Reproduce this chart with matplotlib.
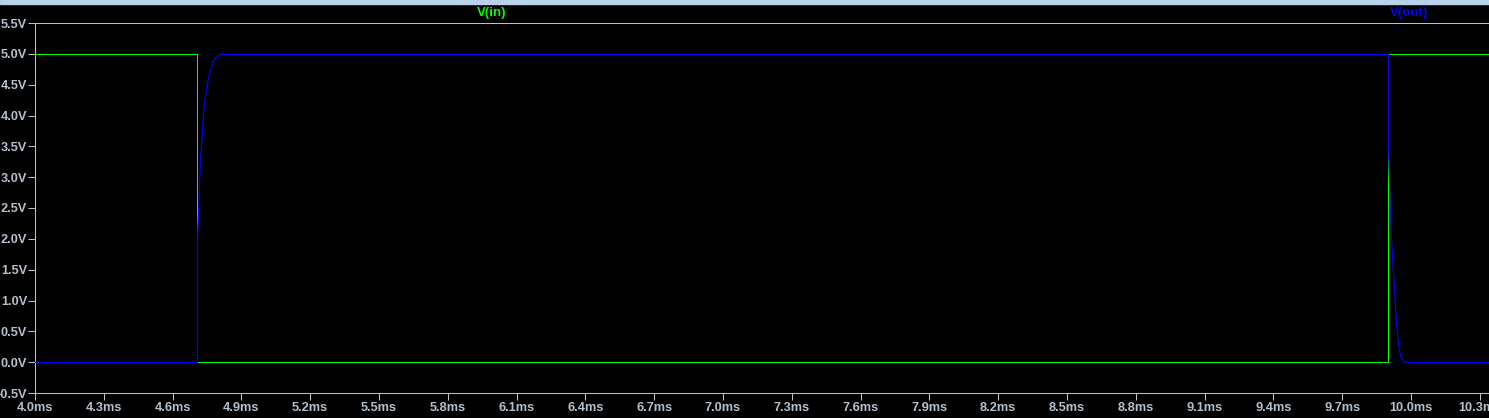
import numpy as np
import matplotlib
matplotlib.use("Agg")
import matplotlib.pyplot as plt
from matplotlib.patches import Rectangle

# V(in): square pulse, times in ms
t_in = [4.0, 4.705, 4.705, 9.901, 9.901, 10.34]
v_in = [5.0, 5.0, 0.0, 0.0, 5.0, 5.0]

# V(out): follows input with a quick RC-like edge
t_out = [4.0, 4.705, 4.705, 4.7096, 4.714, 4.7196, 4.727, 4.734, 4.7414,
         4.7488, 4.7632, 4.7776, 4.7924, 4.8068,
         9.9011, 9.9011, 9.9085, 9.9116, 9.9159, 9.9203, 9.926, 9.9303,
         9.9347, 9.9404, 9.9447, 9.9521, 9.9665, 9.9813, 10.34]
v_out = [0.0, 0.0, 2.03, 2.41, 2.85, 3.33, 3.71, 4.04, 4.31,
         4.52, 4.74, 4.90, 4.97, 5.0,
         5.0, 3.5, 2.41, 2.03, 1.71, 1.44, 1.22, 0.90,
         0.63, 0.47, 0.30, 0.11, 0.02, 0.0, 0.0]

x_ticks = np.round(np.arange(4.0, 10.31, 0.3), 1)
y_ticks = np.round(np.arange(-0.5, 5.51, 0.5), 1)

W, H = 1489, 418
fig = plt.figure(figsize=(W / 100, H / 100), dpi=100, facecolor="black")
ax = fig.add_axes([35 / W, 25 / H, (W - 35) / W, 370 / H])
ax.set_facecolor("black")

ax.plot(t_in, v_in, color="#00ff00", lw=0.72, snap=True, zorder=2)
ax.plot(t_out, v_out, color="#0000ff", lw=0.85, snap=True, zorder=3)

ax.set_xlim(4.0, 4.0 + (W - 35) / 229.33)
ax.set_ylim(-0.5, 5.5)

grid_col = "#c0c0c0"
lab_col = "#b4c0cc"
for side in ["top", "left", "bottom"]:
    ax.spines[side].set_color(grid_col)
    ax.spines[side].set_linewidth(0.75)
ax.spines["right"].set_visible(False)

ax.set_xticks(x_ticks)
ax.set_xticklabels([f"{v:.1f}ms" for v in x_ticks])
ax.set_yticks(y_ticks)
ax.set_yticklabels([f"{v:.1f}V" for v in y_ticks])
ax.tick_params(axis="both", colors=grid_col, length=5, width=0.75,
               labelcolor=lab_col, labelsize=9.2)
ax.tick_params(axis="y", pad=0.7)
ax.tick_params(axis="x", pad=1.5)
for lbl in ax.get_xticklabels() + ax.get_yticklabels():
    lbl.set_fontfamily("Liberation Sans")
    lbl.set_fontweight("bold")

# trace names above the plot
fig.text(492 / W, 1 - 13 / H, "V(in)", color="#00ff00", ha="center", va="center",
         fontsize=9.5, fontweight="bold", family="Liberation Sans")
fig.text(1409 / W, 1 - 13 / H, "V(out)", color="#0000ff", ha="center", va="center",
         fontsize=9.5, fontweight="bold", family="Liberation Sans")

# window strip at the top
fig.patches.append(Rectangle((0, 1 - 4 / H), 1, 4 / H, transform=fig.transFigure,
                             color="#b9d1ea", zorder=0))

fig.savefig("out.png", dpi=100, facecolor="black")
